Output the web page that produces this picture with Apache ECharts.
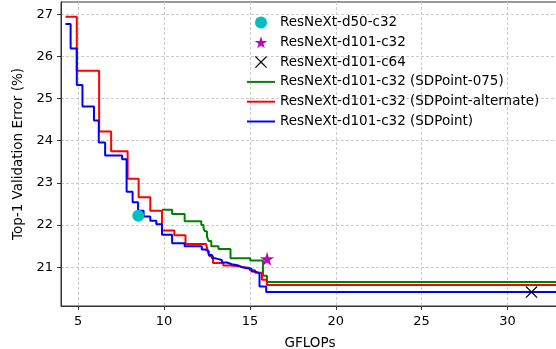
<!DOCTYPE html>
<html>
<head>
<meta charset="utf-8">
<script src="https://cdn.jsdelivr.net/npm/echarts@6/dist/echarts.min.js"></script>
<style>
  html, body { margin: 0; padding: 0; background: #fff; }
  #chart { width: 556px; height: 349px; }
</style>
</head>
<body>
<div id="chart"></div>
<script>
// ticks
const xTicks = [5, 10, 15, 20, 25, 30];
const yTicks = [21, 22, 23, 24, 25, 26, 27];

// single models (GFLOPs, error)
const d50c32 = [8.5, 22.22];
const d101c32 = [16.0, 21.2];
const d101c64 = [31.4, 20.41];

// SDPoint-075 (green), level starts at x
const greenX = [9.88, 10.47, 11.2, 12.17, 12.3, 12.38, 12.5, 12.6, 12.75, 13.17, 13.87, 15.02, 15.76, 15.99, 33];
const greenY = [22.36, 22.26, 22.09, 22.0, 21.92, 21.85, 21.72, 21.62, 21.5, 21.43, 21.21, 21.16, 20.8, 20.65, 20.65];

// SDPoint-alternate (red)
const redX = [4.26, 4.92, 6.22, 6.92, 7.88, 8.52, 9.2, 9.88, 10.6, 11.25, 12.45, 12.55, 12.65, 12.85, 13.45, 13.85, 14.34, 15.0, 15.3, 15.7, 15.99, 33];
const redY = [26.94, 25.66, 24.22, 23.75, 23.1, 22.66, 22.34, 21.87, 21.76, 21.55, 21.53, 21.38, 21.26, 21.1, 21.04, 21.02, 20.98, 20.93, 20.87, 20.7, 20.58, 20.58];

// SDPoint (blue)
const blueX = [4.26, 4.56, 4.92, 5.25, 5.92, 6.2, 6.57, 7.56, 7.82, 8.17, 8.49, 8.81, 9.2, 9.55, 9.88, 10.47, 11.2, 12.2, 12.41, 12.6, 12.8, 13.0, 13.37, 13.66, 13.95, 14.34, 14.53, 15.1, 15.3, 15.56, 15.95, 33];
const blueY = [26.77, 26.19, 25.32, 24.81, 24.48, 23.96, 23.65, 23.56, 22.79, 22.54, 22.34, 22.2, 22.1, 22.02, 21.77, 21.57, 21.5, 21.42, 21.38, 21.29, 21.21, 21.17, 21.11, 21.07, 21.04, 21.0, 20.96, 20.9, 20.86, 20.54, 20.41, 20.41];

const pairs = (xs, ys) => xs.map((x, i) => [x, ys[i]]);

const font = 'DejaVu Sans';
const starPath = 'path://M50,0 L61,35 L98,35 L68,57 L79,91 L50,70 L21,91 L32,57 L2,35 L39,35 Z';
const crossPath = 'path://M0,7 L7,0 L50,43 L93,0 L100,7 L57,50 L100,93 L93,100 L50,57 L7,100 L0,93 L43,50 Z';
const barIcon = 'path://M0,0 L100,0 L100,7 L0,7 Z';

const chart = echarts.init(document.getElementById('chart'));

function stepLine(name, color, xs, ys) {
  return {
    name: name,
    type: 'line',
    step: 'end',
    symbol: 'none',
    data: pairs(xs, ys),
    lineStyle: { color: color, width: 2 },
    itemStyle: { color: color },
    z: 3
  };
}

chart.setOption({
  animation: false,
  grid: {
    left: 61, top: 2, right: -3, bottom: 43,
    outerBoundsMode: 'none',
    containLabel: false,
    show: true, borderColor: '#333', borderWidth: 1
  },
  legend: {
    orient: 'vertical',
    left: 242,
    top: 10.5,
    itemWidth: 28,
    itemHeight: 12,
    itemGap: 5.8,
    textStyle: { fontFamily: font, fontSize: 13.5, color: '#000', padding: [0, 0, 0, 0] },
    data: [
      { name: 'ResNeXt-d50-c32' },
      { name: 'ResNeXt-d101-c32' },
      { name: 'ResNeXt-d101-c64' },
      { name: 'ResNeXt-d101-c32 (SDPoint-075)', icon: barIcon },
      { name: 'ResNeXt-d101-c32 (SDPoint-alternate)', icon: barIcon },
      { name: 'ResNeXt-d101-c32 (SDPoint)', icon: barIcon }
    ]
  },
  xAxis: {
    type: 'value',
    min: 4,
    max: 33,
    name: 'GFLOPs',
    nameLocation: 'middle',
    nameGap: 30,
    nameTextStyle: { fontFamily: font, fontSize: 13.5, color: '#000' },
    axisLine: { lineStyle: { color: '#333' } },
    axisTick: { show: true, length: 4, customValues: xTicks, lineStyle: { color: '#333' } },
    axisLabel: { customValues: xTicks, fontFamily: font, fontSize: 13, color: '#000', margin: 9 },
    splitLine: { show: true, lineStyle: { color: '#cccccc', type: [3, 2], width: 1 } }
  },
  yAxis: {
    type: 'value',
    min: 20.08,
    max: 27.29,
    name: 'Top-1 Validation Error (%)',
    nameLocation: 'middle',
    nameGap: 32,
    nameTextStyle: { fontFamily: font, fontSize: 13.5, color: '#000' },
    axisLine: { show: true, lineStyle: { color: '#333' } },
    axisTick: { show: true, length: 4, customValues: yTicks, lineStyle: { color: '#333' } },
    axisLabel: { customValues: yTicks, fontFamily: font, fontSize: 13, color: '#000', margin: 8 },
    splitLine: { show: true, lineStyle: { color: '#cccccc', type: [3, 2], width: 1 } }
  },
  series: [
    {
      name: 'ResNeXt-d50-c32',
      type: 'scatter',
      symbol: 'circle',
      symbolSize: 12,
      data: [d50c32],
      itemStyle: { color: '#00bfbf', opacity: 1 },
      z: 5
    },
    {
      name: 'ResNeXt-d101-c32',
      type: 'scatter',
      symbol: starPath,
      symbolSize: 14,
      data: [d101c32],
      itemStyle: { color: '#bf00bf', opacity: 1 },
      z: 5
    },
    {
      name: 'ResNeXt-d101-c64',
      type: 'scatter',
      symbol: crossPath,
      symbolSize: 12,
      data: [d101c64],
      itemStyle: { color: '#000', opacity: 1 },
      z: 5
    },
    stepLine('ResNeXt-d101-c32 (SDPoint-075)', '#008000', greenX, greenY),
    stepLine('ResNeXt-d101-c32 (SDPoint-alternate)', '#ff0000', redX, redY),
    stepLine('ResNeXt-d101-c32 (SDPoint)', '#0000ff', blueX, blueY)
  ]
});
</script>
</body>
</html>
